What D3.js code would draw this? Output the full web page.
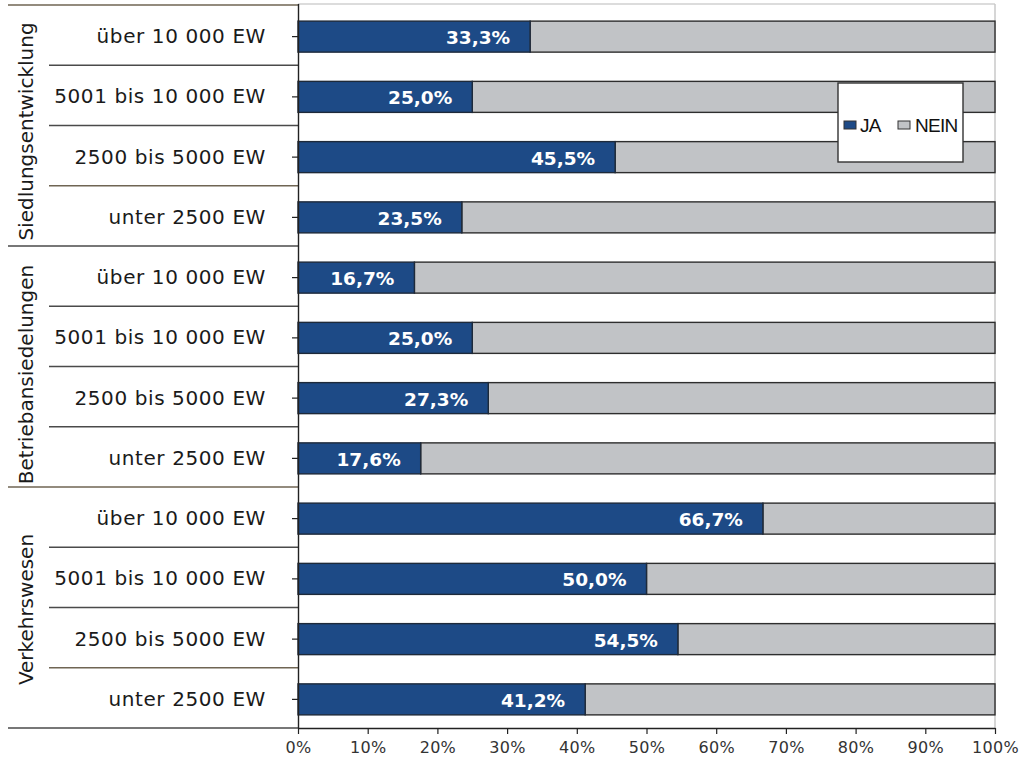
<!DOCTYPE html>
<html>
<head>
<meta charset="utf-8">
<script src="https://cdn.jsdelivr.net/npm/d3@7"></script>
<style>
  html, body { margin: 0; padding: 0; background: #fff; }
  svg { display: block; }
</style>
</head>
<body>
<svg id="chart" width="1020" height="769"></svg>
<script>
// Topic groups (top to bottom) and the municipality size classes within each group
const groups = ["Siedlungsentwicklung", "Betriebansiedelungen", "Verkehrswesen"];
const sizeClasses = ["über 10 000 EW", "5001 bis 10 000 EW", "2500 bis 5000 EW", "unter 2500 EW"];

// Share answering "JA" (percent), one array per group, in size-class order
const jaSiedlung = [33.3, 25.0, 45.5, 23.5];
const jaBetrieb = [16.7, 25.0, 27.3, 17.6];
const jaVerkehr = [66.7, 50.0, 54.5, 41.2];

const seriesNames = ["JA", "NEIN"];
const xTicks = [0, 10, 20, 30, 40, 50, 60, 70, 80, 90, 100];

const colJA = "#1d4a86";
const colNEIN = "#c1c3c6";

// Build rows: one per group/size-class pair
const jaByGroup = [jaSiedlung, jaBetrieb, jaVerkehr];
const rows = [];
groups.forEach((g, gi) => {
  sizeClasses.forEach((s, si) => {
    const ja = jaByGroup[gi][si];
    rows.push({ key: gi + "-" + si, group: g, gi, si, label: s, ja, nein: 100 - ja });
  });
});

const svg = d3.select("#chart");
const plotLeft = 298, plotRight = 995, plotTop = 5, plotBottom = 728;

const x = d3.scaleLinear().domain([0, 100]).range([plotLeft, plotRight]);
const y = d3.scaleBand().domain(rows.map(r => r.key)).range([plotTop, plotBottom]).paddingInner(0).paddingOuter(0);
const band = y.bandwidth();
const barH = 31;

// Plot frame (light top/right borders)
svg.append("line").attr("x1", plotLeft).attr("x2", plotRight).attr("y1", plotTop - 1).attr("y2", plotTop - 1)
  .attr("stroke", "#d0d0d0").attr("stroke-width", 1.5);
svg.append("line").attr("x1", plotRight).attr("x2", plotRight).attr("y1", plotTop - 1).attr("y2", plotBottom)
  .attr("stroke", "#c8c8c8").attr("stroke-width", 1.5);

// Left category table: separators between rows
const boundaries = d3.range(rows.length + 1);
const accent = new Set([0, 3, 8, 11]);
svg.append("g").selectAll("line").data(boundaries).join("line")
  .attr("x1", i => (i % 4 === 0) ? 8 : 49)
  .attr("x2", plotLeft)
  .attr("y1", i => plotTop + i * band)
  .attr("y2", i => plotTop + i * band)
  .attr("stroke", i => accent.has(i) ? "#6f6553" : "#4a4a4a")
  .attr("stroke-width", 1.4);

// Size-class labels
svg.append("g").selectAll("text").data(rows).join("text")
  .attr("x", 266)
  .attr("y", r => y(r.key) + band / 2 + 1)
  .attr("text-anchor", "end")
  .attr("dominant-baseline", "central")
  .attr("font-family", "DejaVu Sans, Verdana, sans-serif")
  .attr("font-size", 20)
  .attr("letter-spacing", 0.6)
  .attr("fill", "#1a1a1a")
  .text(r => r.label);

// Group labels, rotated
const groupOffsets = [6, 8, 2];
svg.append("g").selectAll("text").data(groups).join("text")
  .attr("transform", (g, gi) => {
    const cy = plotTop + (gi * 4 + 2) * band + groupOffsets[gi];
    return `translate(33,${cy}) rotate(-90)`;
  })
  .attr("text-anchor", "middle")
  .attr("font-family", "DejaVu Sans, Verdana, sans-serif")
  .attr("font-size", 20)
  .attr("fill", "#1a1a1a")
  .text(g => g);

// Stacked bars
const barY = r => y(r.key) + (band - barH) / 2 + 1.5;
const bars = svg.append("g");
bars.selectAll("rect.nein").data(rows).join("rect")
  .attr("class", "nein")
  .attr("x", r => x(r.ja))
  .attr("y", barY)
  .attr("width", r => x(100) - x(r.ja))
  .attr("height", barH)
  .attr("fill", colNEIN)
  .attr("stroke", "#2e2e2e").attr("stroke-width", 1.4);
bars.selectAll("rect.ja").data(rows).join("rect")
  .attr("class", "ja")
  .attr("x", x(0))
  .attr("y", barY)
  .attr("width", r => x(r.ja) - x(0))
  .attr("height", barH)
  .attr("fill", colJA)
  .attr("stroke", "#1e2a3a").attr("stroke-width", 1.4);

// Value labels inside the JA segment
const fmt = v => v.toFixed(1).replace(".", ",") + "%";
bars.selectAll("text").data(rows).join("text")
  .attr("x", r => x(r.ja) - 20)
  .attr("y", r => barY(r) + barH / 2 + 1)
  .attr("text-anchor", "end")
  .attr("dominant-baseline", "central")
  .attr("font-family", "DejaVu Sans, Verdana, sans-serif")
  .attr("font-weight", "bold")
  .attr("font-size", 18.5)
  .attr("fill", "#ffffff")
  .text(r => fmt(r.ja));

// Category axis (ticks only)
const yAxis = d3.axisLeft(y).tickSize(6).tickFormat("");
const gy = svg.append("g").attr("transform", `translate(${plotLeft},0)`).call(yAxis);
gy.select(".domain").attr("stroke", "#222").attr("stroke-width", 1.4)
  .attr("d", `M0.5,${plotTop - 1}V${plotBottom}`);
gy.selectAll(".tick line").attr("stroke", "#222").attr("stroke-width", 1.2)
  .attr("transform", "translate(0,1.5)");

// Value axis
const xAxis = d3.axisBottom(x).tickValues(xTicks).tickSize(6).tickSizeOuter(0).tickFormat(d => d + "%");
const gx = svg.append("g").attr("transform", `translate(0,${plotBottom})`).call(xAxis);
gx.select(".domain").attr("stroke", "#222").attr("stroke-width", 1.4);
gx.selectAll(".tick line").attr("stroke", "#222").attr("stroke-width", 1.2);
gx.selectAll(".tick text")
  .attr("y", 14)
  .attr("font-family", "DejaVu Sans, Verdana, sans-serif")
  .attr("font-size", 16)
  .attr("letter-spacing", 0.3)
  .attr("fill", "#333");

// Legend
const lg = svg.append("g").attr("transform", "translate(838,83)");
lg.append("rect").attr("width", 125).attr("height", 79)
  .attr("fill", "#fff").attr("stroke", "#333").attr("stroke-width", 1.4);
const items = [
  { name: seriesNames[0], color: colJA, sx: 6, tx: 22 },
  { name: seriesNames[1], color: colNEIN, sx: 60, tx: 77 }
];
items.forEach(it => {
  lg.append("rect").attr("x", it.sx).attr("y", 38).attr("width", 12).attr("height", 8)
    .attr("fill", it.color).attr("stroke", "#333").attr("stroke-width", 1);
  lg.append("text").attr("x", it.tx).attr("y", 42)
    .attr("dominant-baseline", "central")
    .attr("font-family", "Liberation Sans, Arial, sans-serif")
    .attr("font-size", 19)
    .attr("letter-spacing", -0.7)
    .attr("fill", "#111")
    .text(it.name);
});
</script>
</body>
</html>
